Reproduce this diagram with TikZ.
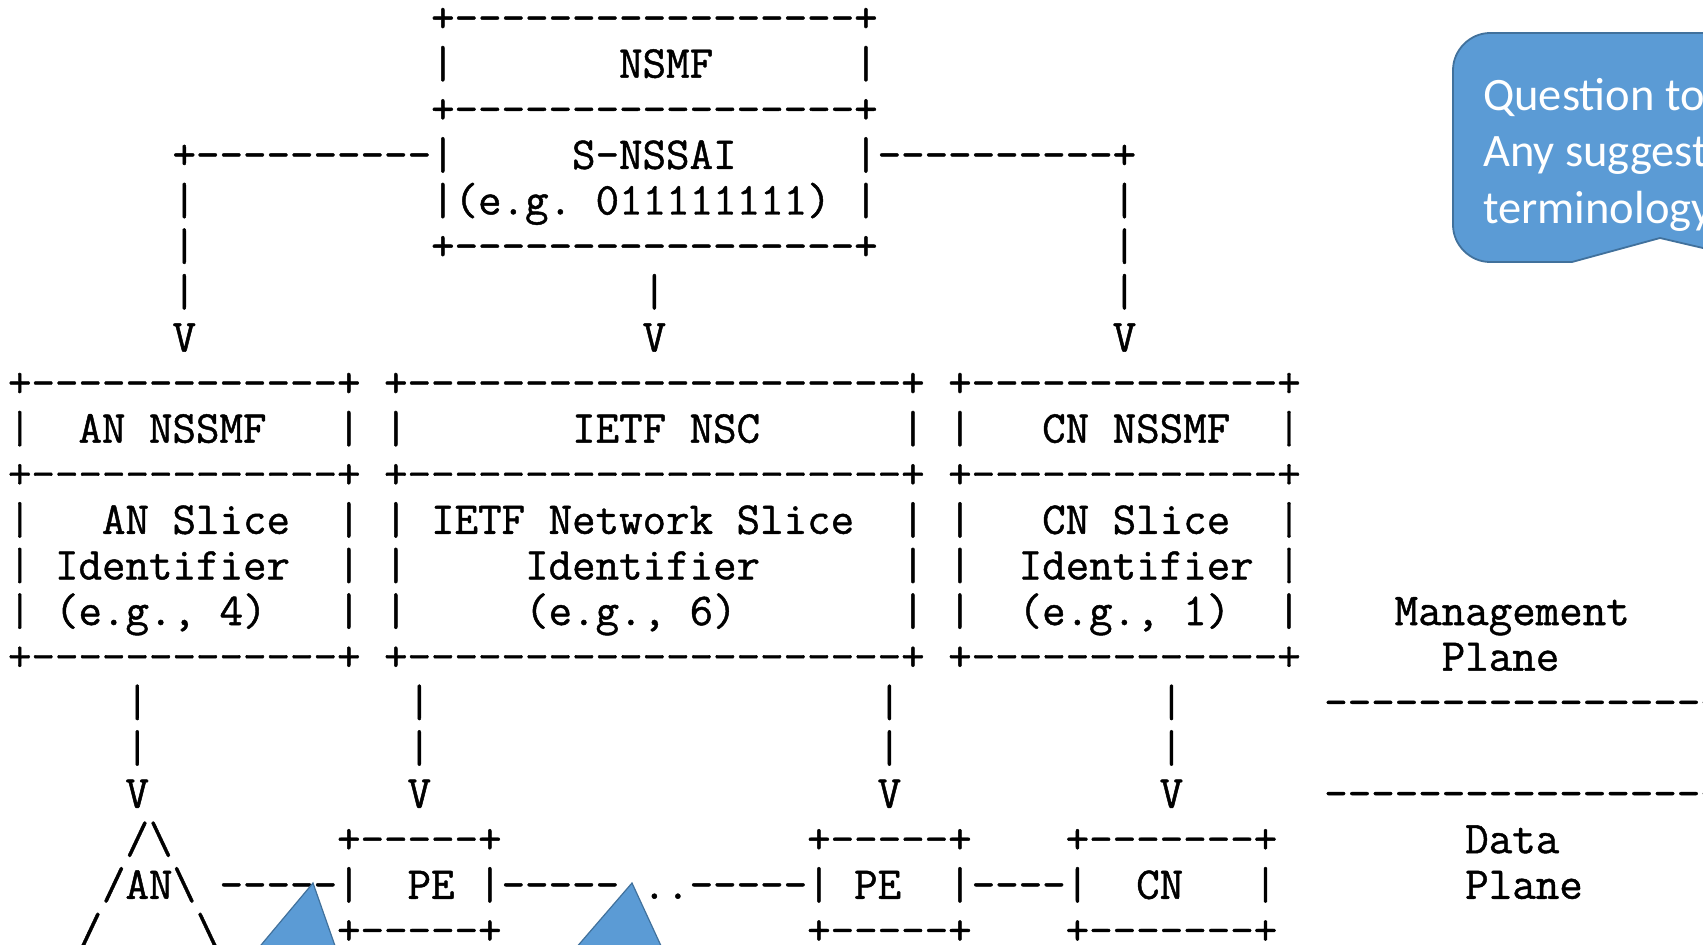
\documentclass[tikz,border=0pt]{standalone}
\usepackage{fontspec}
\setmonofont{Latin Modern Mono}[FakeBold=1]
\newfontfamily\carlito{Carlito}
\usepackage{tikz}
\usetikzlibrary{positioning}

\definecolor{notefill}{RGB}{91,155,213}
\definecolor{noteline}{RGB}{65,113,156}

% runs of blanks and dashes in the ascii picture
\newcommand\sk[1]{\hspace*{#1\fontcharwd\font`\M}}
\newcommand\dsh[1]{\foreach\k in {1,...,#1}{-}}

\begin{document}
\begin{tikzpicture}[x=1pt,y=-1pt,
    asciirow/.style={anchor=base west,inner sep=0pt,
      font=\ttfamily\fontsize{45.64}{45.6}\selectfont\frenchspacing},
    callout/.style={fill=notefill,draw=noteline,line width=1.8pt},
    notetext/.style={anchor=base west,inner sep=0pt,text=white,
      font=\carlito\fontsize{46.5}{56.7}\selectfont},
    marker/.style={fill=notefill,draw=noteline,line width=1.2pt}]
  \useasboundingbox (0,0) rectangle (1703,945);
  \clip (0,0) rectangle (1703,945);
  \begin{scope}[shift={(7.8,32)},y=-45.62pt]
    \node[asciirow] (row0) at (0,0) {\sk{18}+\dsh{17}+};
    \node[asciirow] (row1) at (0,1) {\sk{18}|\sk{7}NSMF\sk{6}|};
    \node[asciirow] (row2) at (0,2) {\sk{18}+\dsh{17}+};
    \node[asciirow] (row3) at (0,3) {\sk{7}+\dsh{10}|\sk{5}S-NSSAI\sk{5}|\dsh{10}+};
    \node[asciirow] (row4) at (0,4) {\sk{7}|\sk{10}|(e.g.\sk{1}011111111)\sk{1}|\sk{10}|};
    \node[asciirow] (row5) at (0,5) {\sk{7}|\sk{10}+\dsh{17}+\sk{10}|};
    \node[asciirow] (row6) at (0,6) {\sk{7}|\sk{19}|\sk{19}|};
    \node[asciirow] (row7) at (0,7) {\sk{7}V\sk{19}V\sk{19}V};
    \node[asciirow] (row8) at (0,8) {+\dsh{13}+\sk{1}+\dsh{21}+\sk{1}+\dsh{13}+};
    \node[asciirow] (row9) at (0,9) {|\sk{2}AN\sk{1}NSSMF\sk{3}|\sk{1}|\sk{7}IETF\sk{1}NSC\sk{6}|\sk{1}|\sk{3}CN\sk{1}NSSMF\sk{2}|};
    \node[asciirow] (row10) at (0,10) {+\dsh{13}+\sk{1}+\dsh{21}+\sk{1}+\dsh{13}+};
    \node[asciirow] (row11) at (0,11) {|\sk{3}AN\sk{1}Slice\sk{2}|\sk{1}|\sk{1}IETF\sk{1}Network\sk{1}Slice\sk{2}|\sk{1}|\sk{3}CN\sk{1}Slice\sk{2}|};
    \node[asciirow] (row12) at (0,12) {|\sk{1}Identifier\sk{2}|\sk{1}|\sk{5}Identifier\sk{6}|\sk{1}|\sk{2}Identifier\sk{1}|};
    \node[asciirow] (row13) at (0,13) {|\sk{1}(e.g.,\sk{1}4)\sk{3}|\sk{1}|\sk{5}(e.g.,\sk{1}6)\sk{7}|\sk{1}|\sk{2}(e.g.,\sk{1}1)\sk{2}|\sk{4}Management};
    \node[asciirow] (row14) at (0,14) {+\dsh{13}+\sk{1}+\dsh{21}+\sk{1}+\dsh{13}+\sk{6}Plane};
    \node[asciirow] (row15) at (0,15) {\sk{5}|\sk{11}|\sk{19}|\sk{11}|\sk{6}\dsh{25}};
    \node[asciirow] (row16) at (0,16) {\sk{5}|\sk{11}|\sk{19}|\sk{11}|};
    \node[asciirow] (row17) at (0,17) {\sk{5}V\sk{11}V\sk{19}V\sk{11}V\sk{6}\dsh{25}};
    \node[asciirow] (row18) at (0,18) {\sk{5}/\textbackslash\sk{7}+\dsh{5}+\sk{13}+\dsh{5}+\sk{4}+\dsh{7}+\sk{8}Data};
    \node[asciirow] (row19) at (0,19) {\sk{4}/AN\textbackslash\sk{1}\dsh{5}|\sk{2}PE\sk{1}|\dsh{5}\sk{1}..\dsh{5}|\sk{1}PE\sk{2}|\dsh{4}|\sk{2}CN\sk{3}|\sk{8}Plane};
    \node[asciirow] (row20) at (0,20) {\sk{3}/\sk{4}\textbackslash\sk{5}+\dsh{5}+\sk{13}+\dsh{5}+\sk{4}+\dsh{7}+};
  \end{scope}
  % comment bubble
  \draw[callout] (1780,33) -- (1490,33) .. controls (1470,33) and (1453,50) .. (1453,70)
    -- (1453,225) .. controls (1453,245) and (1470,262) .. (1490,262)
    -- (1572,262) -- (1660,238) -- (1780,266) -- cycle;
  \node[notetext] (note1) at (1483,110) {Question to};
  \node[notetext] (note2) at (1483,166.7) {Any suggest};
  \node[notetext] (note3) at (1483,223.3) {terminology};
  % comment anchors
  \draw[marker] (313,883) -- (215,1000) -- (354,1000) -- cycle;
  \draw[marker] (632,883) -- (531,1000) -- (686,1000) -- cycle;
\end{tikzpicture}
\end{document}
